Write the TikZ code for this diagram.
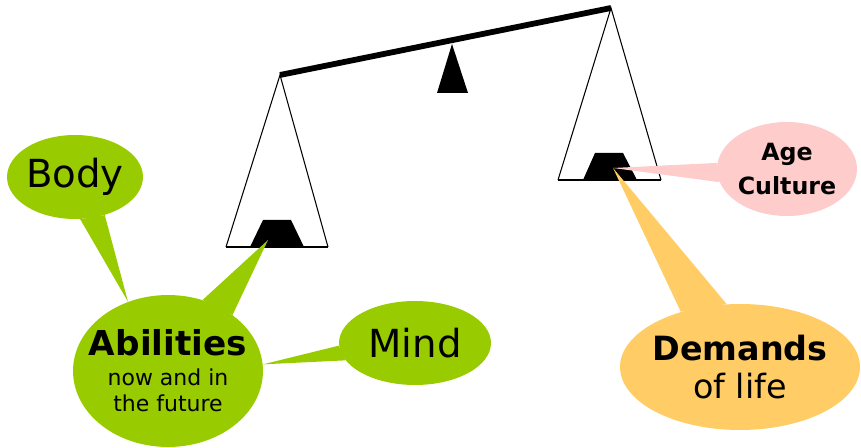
\documentclass[tikz,border=0pt]{standalone}
\usepackage{fontspec}
\setmainfont{DejaVu Sans}
\usetikzlibrary{shapes.geometric}
\definecolor{limegreen}{HTML}{99CC00}
\definecolor{rosepink}{HTML}{FFCCCC}
\definecolor{sandorange}{HTML}{FFCC66}

\begin{document}
\begin{tikzpicture}[x=0.02cm, y=-0.02cm,
    bubble/.style={ellipse, inner xsep=-12pt, inner ysep=0pt, align=center},
    string/.style={line width=0.6pt},
    pan/.style={line width=1.7pt}]
    \useasboundingbox (0,0) rectangle (861,448);

    % The beam and its fulcrum
    \coordinate (beamleft) at (280,75);
    \coordinate (beamright) at (611,8);
    \draw[line width=3.3pt] (beamleft) -- (beamright);
    \fill (452,44) -- (468,93) -- (437,93) -- cycle;

    % Left pan
    \coordinate (lpanl) at (226,247);
    \coordinate (lpanr) at (328,247);
    \draw[string] (lpanl) -- (beamleft) -- (lpanr);
    \fill (250,247) -- (263,220) -- (291,220) -- (304,247) -- cycle;
    \draw[pan] (lpanl) -- (lpanr);
    \coordinate (leftload) at (268,240);

    % Right pan
    \coordinate (rpanl) at (558,180);
    \coordinate (rpanr) at (661,180);
    \draw[string] (rpanl) -- (beamright) -- (rpanr);
    \fill (583,180) -- (595,153) -- (623,153) -- (637,180) -- cycle;
    \draw[pan] (rpanl) -- (rpanr);
    \coordinate (rightload) at (613,168);

    % Green bubbles
    \node[bubble, fill=limegreen, minimum width=2.72cm, minimum height=1.68cm,
          font=\fontsize{22}{26}\selectfont] (body) at (75,177) {Body};
    \node[bubble, fill=limegreen, minimum width=3.8cm, minimum height=3.04cm,
          font=\fontsize{12.5}{15.2}\selectfont] (abilities) at (168,371)
          {{\bfseries\fontsize{19.5}{19.5}\selectfont Abilities}\\[1.5pt] now and in\\ the future};
    \node[bubble, fill=limegreen, minimum width=3.04cm, minimum height=1.68cm,
          font=\fontsize{22}{26}\selectfont] (mind) at (415,343) {Mind};
    \fill[limegreen] (body.-83) -- (body.-52) -- (abilities.120) -- cycle;
    \fill[limegreen] (abilities.64) -- (abilities.41) -- (leftload) -- cycle;
    \fill[limegreen] (mind.182) -- (mind.194) -- (abilities.4) -- cycle;

    % Pink bubble
    \node[bubble, fill=rosepink, minimum width=2.8cm, minimum height=1.88cm,
          font=\fontsize{13.5}{19.5}\selectfont\bfseries] (age) at (787,169) {Age\\ Culture};
    \fill[rosepink] (age.175) -- (age.191) -- (rightload) -- cycle;

    % Orange bubble
    \node[bubble, fill=sandorange, minimum width=4.8cm, minimum height=2.52cm,
          font=\fontsize{19}{21.5}\selectfont] (demands) at (740,367)
          {{\bfseries Demands}\\ of life};
    \fill[sandorange] (demands.137) -- (demands.102) -- (rightload) -- cycle;
\end{tikzpicture}
\end{document}
